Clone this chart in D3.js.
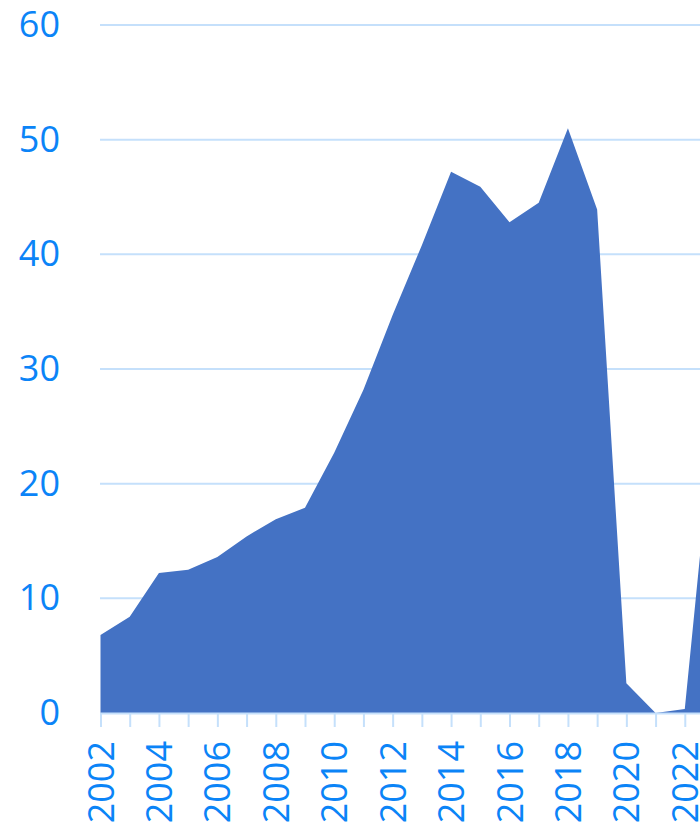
<!DOCTYPE html>
<html>
<head>
<meta charset="utf-8">
<script src="https://cdn.jsdelivr.net/npm/d3@7"></script>
<style>
  body { margin: 0; background: #fff; }
  svg { display: block; }
</style>
</head>
<body>
<svg id="chart"></svg>
<script>
// valeurs
const years = [2002, 2003, 2004, 2005, 2006, 2007, 2008, 2009, 2010, 2011, 2012,
  2013, 2014, 2015, 2016, 2017, 2018, 2019, 2020, 2021, 2022, 2023];
const values = [6.8, 8.4, 12.2, 12.5, 13.6, 15.4, 16.9, 17.9, 22.7, 28.2, 34.7,
  40.8, 47.2, 45.9, 42.8, 44.5, 51.0, 43.9, 2.6, 0, 0.35, 26];
const yTicks = [0, 10, 20, 30, 40, 50, 60];
const xLabels = [2002, 2004, 2006, 2008, 2010, 2012, 2014, 2016, 2018, 2020, 2022];

const width = 700, height = 828;
const svg = d3.select('#chart')
  .attr('width', width)
  .attr('height', height);

// échelles (le graphique est coupé à droite, 2023 hors cadre)
const x = d3.scaleLinear()
  .domain([2002, 2023])
  .range([100.5, 714]);
const y = d3.scaleLinear()
  .domain([0, 60])
  .range([713, 25]);

const gridColor = '#c5e0fb';
const textColor = '#0b84f7';
const font = '"Open Sans", "Noto Sans", sans-serif';

// grille
svg.append('g')
  .selectAll('line')
  .data(yTicks.filter(d => d > 0))
  .join('line')
  .attr('x1', 100).attr('x2', width)
  .attr('y1', d => y(d)).attr('y2', d => y(d))
  .attr('stroke', gridColor)
  .attr('stroke-width', 2);

// aire
const area = d3.area()
  .x((d, i) => x(years[i]))
  .y0(y(0))
  .y1(d => y(d));
svg.append('path')
  .datum(values)
  .attr('d', area)
  .attr('fill', '#4472c4');

// axe x
const xAxis = svg.append('g')
  .attr('transform', 'translate(0,' + y(0) + ')')
  .call(d3.axisBottom(x)
    .tickValues(years)
    .tickSize(14)
    .tickFormat(d => xLabels.includes(d) ? d : ''));
xAxis.select('.domain').attr('stroke', gridColor).attr('stroke-width', 2);
xAxis.selectAll('.tick line').attr('stroke', gridColor).attr('stroke-width', 2);
xAxis.selectAll('.tick text')
  .attr('fill', textColor)
  .attr('font-family', font)
  .attr('font-size', 36)
  .attr('transform', 'rotate(-90)')
  .attr('text-anchor', 'end')
  .attr('x', -28)
  .attr('y', 0)
  .attr('dy', '0.35em');

// axe y
const yAxis = svg.append('g')
  .attr('transform', 'translate(60,0)')
  .call(d3.axisLeft(y).tickValues(yTicks).tickSize(0).tickPadding(0));
yAxis.select('.domain').remove();
yAxis.selectAll('.tick text')
  .attr('fill', textColor)
  .attr('font-family', font)
  .attr('font-size', 36);
</script>
</body>
</html>
